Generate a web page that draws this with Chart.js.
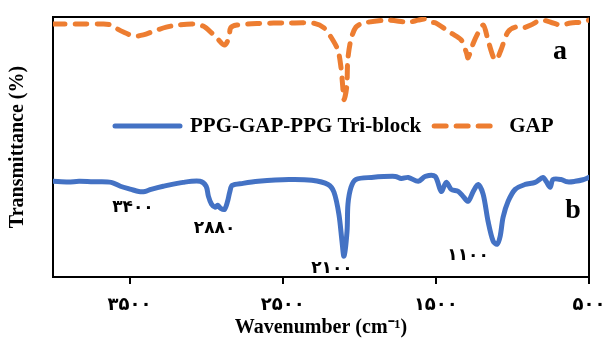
<!DOCTYPE html>
<html>
<head>
<meta charset="utf-8">
<script src="https://cdn.jsdelivr.net/npm/chart.js@4/dist/chart.umd.min.js"></script>
<style>
  html, body { margin: 0; padding: 0; background: #fff; }
  #wrap { width: 605px; height: 338px; }
</style>
</head>
<body>
<div id="wrap"><canvas id="ftir" width="605" height="338"></canvas></div>
<script>
// FTIR spectra, wavenumber in cm-1 (descending), transmittance in arbitrary %
const gapWavenumbers = [4000, 3830, 3670, 3620, 3600, 3540, 3470, 3410, 3340, 3260, 3190, 3080, 3020,
  2970, 2930, 2880, 2850, 2840, 2800, 2660, 2460, 2290, 2230, 2185, 2140, 2120, 2108, 2100, 2082,
  2075, 2055, 2022, 1970, 1810, 1680, 1615, 1570, 1530, 1500, 1450, 1400, 1335, 1300, 1290, 1255,
  1225, 1190, 1160, 1125, 1105, 1075, 1030, 980, 930, 880, 815, 750, 685, 620, 550, 500];
const gapTransmittance = [97.3, 97.3, 97.3, 96.9, 96.1, 94.2, 92.7, 93.1, 94.6, 96.1, 96.9, 97.3, 96.5,
  94.2, 91.9, 89.2, 92.3, 95.8, 96.9, 97.5, 97.7, 97.5, 95.8, 92.3, 87.3, 80.8, 73.2, 68.2, 73.2,
  83.5, 91.2, 96.1, 97.7, 98.8, 98.0, 98.8, 99.2, 98.0, 97.7, 95.8, 93.8, 91.2, 86.2, 84.3, 90.0,
  93.8, 96.9, 91.2, 84.6, 83.5, 87.3, 94.2, 96.1, 95.8, 96.9, 98.8, 98.0, 96.9, 97.7, 98.0, 98.8];

const triblockWavenumbers = [4000, 3900, 3830, 3720, 3620, 3560, 3490, 3440, 3400, 3360, 3280, 3150, 3040,
  3000, 2985, 2965, 2940, 2925, 2905, 2880, 2860, 2845, 2830, 2760, 2660, 2460, 2310, 2204, 2165,
  2133, 2113, 2100, 2080, 2074, 2054, 2022, 1920, 1765, 1726, 1680, 1615, 1569, 1505, 1465, 1432,
  1400, 1354, 1322, 1289, 1256, 1224, 1191, 1159, 1126, 1100, 1080, 1061, 1028, 982, 917, 852, 800,
  780, 754, 735, 683, 640, 591, 540, 500];
const triblockTransmittance = [36.8, 36.5, 36.8, 36.6, 36.4, 34.9, 33.7, 32.9, 32.9, 33.7, 34.9, 36.4, 36.8,
  34.9, 31.0, 28.0, 26.8, 27.6, 26.4, 26.0, 29.1, 32.9, 35.2, 36.0, 36.8, 37.5, 37.2, 35.6, 32.6,
  24.1, 13.8, 8.0, 17.6, 28.0, 34.5, 37.5, 38.3, 38.7, 37.9, 38.3, 36.8, 38.7, 38.7, 32.9, 36.4,
  33.7, 32.9, 31.0, 29.1, 32.9, 35.6, 31.8, 21.4, 13.8, 12.6, 15.7, 23.0, 29.1, 33.7, 35.6, 36.4, 38.3,
  36.8, 34.5, 37.5, 37.5, 36.6, 36.8, 37.4, 38.3];

const xTickValues = [3500, 2500, 1500, 500];
const peakWavenumbers = [3400, 2880, 2100, 1100];

// pixel offsets of each peak label from its peak
const peakLabelOffsets = [[-12, 16], [-10, 19], [-12, 12], [-29, 11]];

const PERSIAN = '۰۱۲۳۴۵۶۷۸۹';
function toPersian(n) {
  return String(n).replace(/\d/g, d => PERSIAN[d]);
}

function toPoints(xs, ys) {
  return xs.map((x, i) => ({ x: x, y: ys[i] }));
}

const serifBold = '"Liberation Serif", "Times New Roman", serif';
const digitFont = '"DejaVu Sans", "Liberation Serif", sans-serif';

// black box round the plot area
const framePlugin = {
  id: 'frame',
  beforeDatasetsDraw(chart) {
    const a = chart.chartArea, ctx = chart.ctx;
    ctx.save();
    ctx.strokeStyle = '#000';
    ctx.lineWidth = 2;
    ctx.strokeRect(a.left, a.top, a.right - a.left, a.bottom - a.top);
    ctx.restore();
  }
};

// in-plot legend, curve letters and peak positions
const labelsPlugin = {
  id: 'labels',
  afterDatasetsDraw(chart) {
    const ctx = chart.ctx, a = chart.chartArea;
    const xs = chart.scales.x, ys = chart.scales.y;
    ctx.save();

    // legend row
    const legendY = 126;
    let lx = 112;
    ctx.font = 'bold 21px ' + serifBold;
    ctx.textBaseline = 'middle';
    ctx.fillStyle = '#000';
    chart.data.datasets.forEach((ds, i) => {
      const len = i === 0 ? 71 : 63;
      ctx.strokeStyle = ds.borderColor;
      ctx.lineWidth = ds.borderWidth;
      ctx.lineCap = 'round';
      ctx.setLineDash(ds.borderDash || []);
      ctx.beginPath();
      ctx.moveTo(lx + 3, legendY);
      ctx.lineTo(lx + len - 3, legendY);
      ctx.stroke();
      ctx.setLineDash([]);
      lx += len + (i === 0 ? 7 : 15);
      ctx.textAlign = 'left';
      ctx.fillText(ds.label, lx, legendY + 1);
      lx += ctx.measureText(ds.label).width + 10;
    });

    // curve letters
    ctx.font = 'bold 28px ' + serifBold;
    ctx.textAlign = 'center';
    ctx.fillText('a', a.right - 29, 52);
    ctx.fillText('b', a.right - 16, 211);

    // peak labels under the tri-block curve
    ctx.font = 'bold 17px ' + digitFont;
    peakWavenumbers.forEach((w, i) => {
      const k = triblockWavenumbers.indexOf(w);
      const px = xs.getPixelForValue(w) + peakLabelOffsets[i][0];
      const py = ys.getPixelForValue(triblockTransmittance[k]) + peakLabelOffsets[i][1];
      ctx.fillText(toPersian(w), px, py);
    });
    ctx.restore();
  }
};

new Chart(document.getElementById('ftir'), {
  type: 'line',
  data: {
    datasets: [
      {
        label: 'PPG-GAP-PPG Tri-block',
        data: toPoints(triblockWavenumbers, triblockTransmittance),
        borderColor: '#4472C4',
        borderWidth: 5,
        borderCapStyle: 'round',
        borderJoinStyle: 'round',
        pointRadius: 0,
        tension: 0.3
      },
      {
        label: 'GAP',
        data: toPoints(gapWavenumbers, gapTransmittance),
        borderColor: '#ED7D31',
        borderWidth: 5,
        borderDash: [12, 10],
        borderCapStyle: 'round',
        borderJoinStyle: 'round',
        pointRadius: 0,
        tension: 0.3
      }
    ]
  },
  options: {
    responsive: false,
    animation: false,
    layout: { padding: { top: 17, right: 16, left: 0, bottom: 0 } },
    plugins: {
      legend: { display: false },
      tooltip: { enabled: false }
    },
    scales: {
      x: {
        type: 'linear',
        reverse: true,
        min: 500,
        max: 4000,
        afterBuildTicks(scale) {
          scale.ticks = xTickValues.map(v => ({ value: v }));
        },
        afterFit(scale) {
          scale.height = 61;
          // let the end label hang past the frame
          scale.paddingLeft = 0;
          scale.paddingRight = 0;
        },
        border: { display: false },
        grid: {
          drawOnChartArea: false,
          drawTicks: true,
          tickLength: 7,
          color: '#000',
          lineWidth: 2
        },
        ticks: {
          padding: 11,
          color: '#000',
          maxRotation: 0,
          font: { family: digitFont, size: 18, weight: 'bold' },
          callback: v => toPersian(v)
        },
        title: {
          display: true,
          text: 'Wavenumber (cm⁻¹)',
          color: '#000',
          padding: { top: 0, bottom: 0 },
          font: { family: serifBold, size: 20, weight: 'bold', lineHeight: 1 }
        }
      },
      y: {
        min: 0,
        max: 100,
        afterFit(scale) { scale.width = 53; },
        border: { display: false },
        grid: { display: false },
        ticks: { display: false },
        title: {
          display: true,
          text: 'Transmittance (%)',
          color: '#000',
          padding: { top: 8, bottom: 0 },
          font: { family: serifBold, size: 20, weight: 'bold', lineHeight: 1 }
        }
      }
    }
  },
  plugins: [framePlugin, labelsPlugin]
});
</script>
</body>
</html>
